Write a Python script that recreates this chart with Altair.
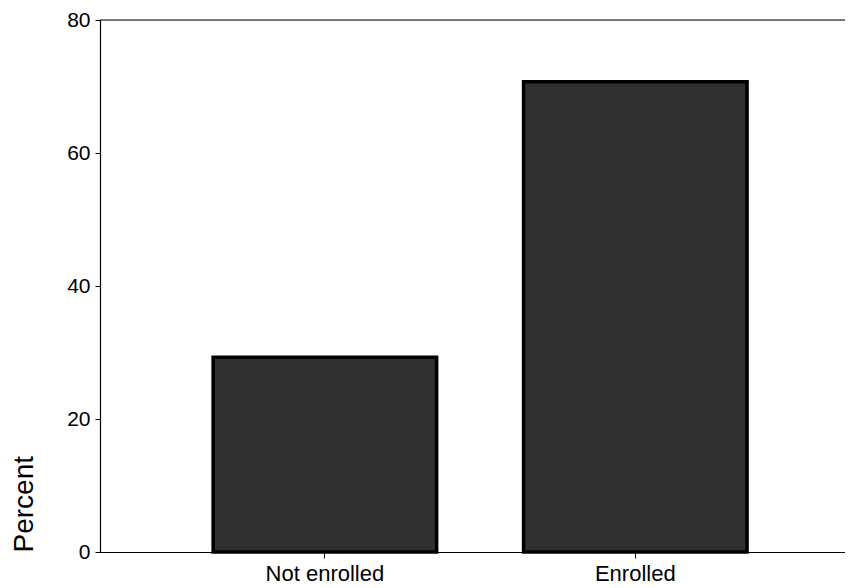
import altair as alt
import pandas as pd

categories = ["Not enrolled", "Enrolled"]
percents = [29.3, 70.7]
y_ticks = [0, 20, 40, 60, 80]

df = pd.DataFrame({"status": categories, "percent": percents})

font = "Liberation Sans"

bars = alt.Chart(df).mark_bar(
    fill="#303030", stroke="#000000", strokeWidth=3.5
).encode(
    x=alt.X(
        "status:N",
        sort=categories,
        scale=alt.Scale(paddingInner=0.28, paddingOuter=0.34, align=0.536),
        axis=alt.Axis(
            title=None, labelAngle=0, labelFontSize=22, labelFont=font,
            labelColor="black", domainColor="black", domainWidth=1.2,
            tickColor="black", tickSize=6, labelPadding=5, grid=False,
        ),
    ),
    y=alt.Y(
        "percent:Q",
        scale=alt.Scale(domain=[0, 80], nice=False),
        axis=alt.Axis(
            title="Percent", values=y_ticks, grid=False,
            labelFontSize=21, labelFont=font, labelColor="black",
            labelFontWeight="normal",
            domainColor="black", domainWidth=1.2, tickColor="black",
            tickSize=5, labelPadding=5,
            titleFontSize=28, titleFont=font, titleColor="black",
            titleFontWeight="normal", titleAngle=270, titleX=-68, titleY=532,
            titleAlign="left", titleBaseline="alphabetic",
        ),
    ),
)

top_rule = alt.Chart(pd.DataFrame({"v": [80]})).mark_rule(
    color="black", strokeWidth=1.2
).encode(y=alt.Y("v:Q"))

chart = alt.layer(bars, top_rule).properties(
    width=745, height=532,
    autosize=alt.AutoSizeParams(type="none"),
    padding={"left": 92, "top": 12, "right": 0, "bottom": 34},
).configure_view(stroke=None).configure(background="white")

chart.save("out.html", embed_options={"renderer": "svg", "actions": False})
